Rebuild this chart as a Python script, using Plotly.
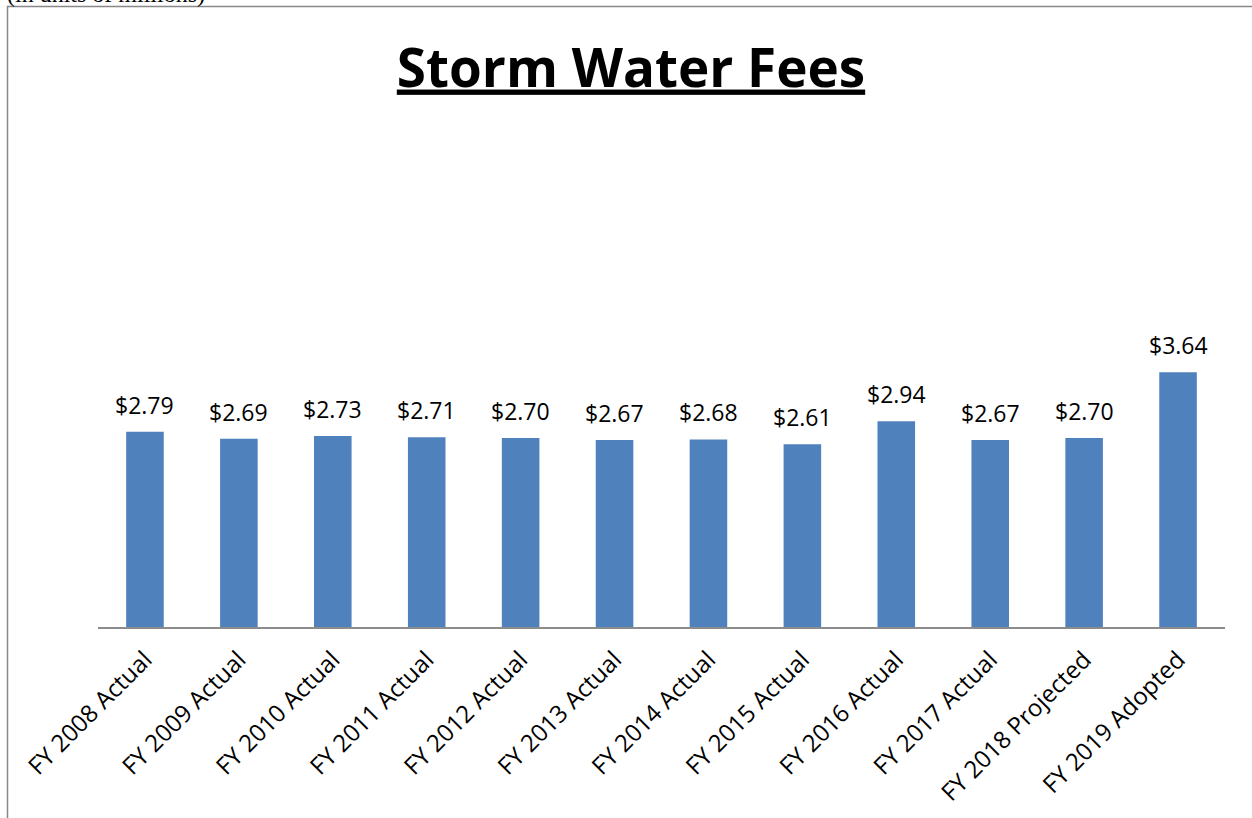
import plotly.graph_objects as go

categories = ["FY 2008 Actual", "FY 2009 Actual", "FY 2010 Actual", "FY 2011 Actual",
              "FY 2012 Actual", "FY 2013 Actual", "FY 2014 Actual", "FY 2015 Actual",
              "FY 2016 Actual", "FY 2017 Actual", "FY 2018 Projected", "FY 2019 Adopted"]
values = [2.79, 2.69, 2.73, 2.71, 2.70, 2.67, 2.68, 2.61, 2.94, 2.67, 2.70, 3.64]
labels = ["$%.2f" % v for v in values]

W, H = 1252, 818
L, R, T, B = 98, 27, 277, 191
pw, ph = W - L - R, H - T - B

def px_x(p):
    return (p - L) / pw

def px_y(p):
    return (H - B - p) / ph

FONT = "Open Sans, Liberation Sans, sans-serif"

fig = go.Figure()
fig.add_trace(go.Bar(x=categories, y=values, marker=dict(color="#4F81BD", line=dict(width=0)),
                     hoverinfo="x+y"))

for c, v, t in zip(categories, values, labels):
    fig.add_annotation(x=c, y=v, text=t, showarrow=False, yanchor="bottom", yshift=9,
                       font=dict(family=FONT, size=23, color="black"))

fig.add_annotation(xref="paper", yref="paper", x=px_x(5), y=px_y(-6), xanchor="left", yanchor="middle",
                   text="(in units of millions)", showarrow=False,
                   font=dict(family="Liberation Serif, serif", size=24, color="black"))

fig.add_shape(type="rect", xref="paper", yref="paper", x0=px_x(7.5), x1=px_x(1260), y0=px_y(6.5), y1=px_y(830),
              line=dict(color="#888888", width=1.5), fillcolor="rgba(0,0,0,0)", layer="below")

fig.update_layout(
    width=W, height=H,
    margin=dict(l=L, r=R, t=T, b=B),
    paper_bgcolor="white", plot_bgcolor="white",
    bargap=0.6,
    showlegend=False,
    title=dict(text="<b><u>Storm Water Fees</u></b>", x=px_x(631), xref="paper", xanchor="center",
               y=1 - 68 / H, yanchor="middle",
               font=dict(family=FONT, size=53, color="black")),
    xaxis=dict(showline=True, linecolor="#8c8c8c", linewidth=2, ticks="", tickangle=-45,
               ticklabelstandoff=7,
               tickfont=dict(family=FONT, size=24, color="black"),
               showgrid=False),
    yaxis=dict(range=[0, ph / 70], visible=False, showgrid=False, zeroline=False),
)

fig.write_html("out.html", config={"displayModeBar": False},
               post_script="document.body.style.margin='0';document.body.style.overflow='hidden';")
